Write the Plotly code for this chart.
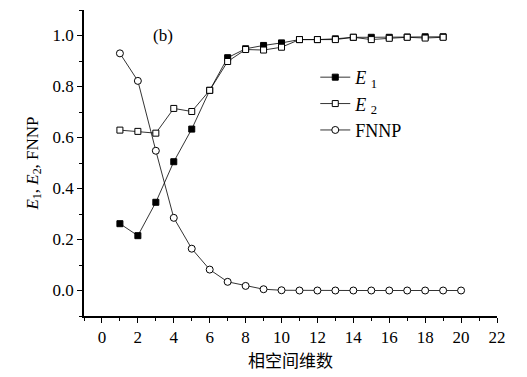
import plotly.graph_objects as go

dims_e = list(range(1, 20))
dims_f = list(range(1, 21))
e1 = [0.262, 0.215, 0.346, 0.505, 0.633, 0.785, 0.913, 0.948, 0.961, 0.971,
      0.984, 0.984, 0.987, 0.993, 0.993, 0.993, 0.994, 0.995, 0.995]
e2 = [0.629, 0.624, 0.617, 0.714, 0.702, 0.785, 0.898, 0.945, 0.943, 0.954,
      0.984, 0.984, 0.984, 0.993, 0.984, 0.989, 0.993, 0.990, 0.993]
fnnp = [0.930, 0.822, 0.548, 0.285, 0.164, 0.082, 0.034, 0.018, 0.005, 0.001,
        0.0, 0.0, 0.0, 0.0, 0.0, 0.0, 0.0, 0.0, 0.0, 0.0]
xticks = list(range(0, 23, 2))
yticks = [0.0, 0.2, 0.4, 0.6, 0.8, 1.0]

serif = "Liberation Serif, DejaVu Serif, serif"
line = dict(color="black", width=0.8)

fig = go.Figure()
fig.add_trace(go.Scatter(x=dims_e, y=e1, mode="lines+markers", name="<i>E</i> <sub>1</sub>",
                         line=line, legendrank=1,
                         marker=dict(symbol="square", size=6, color="black",
                                     line=dict(color="black", width=1))))
fig.add_trace(go.Scatter(x=dims_e, y=e2, mode="lines+markers", name="<i>E</i> <sub>2</sub>",
                         line=line, legendrank=2,
                         marker=dict(symbol="square", size=6, color="white",
                                     line=dict(color="black", width=1))))
fig.add_trace(go.Scatter(x=dims_f, y=fnnp, mode="lines+markers", name="FNNP",
                         line=line, legendrank=3,
                         marker=dict(symbol="circle", size=7, color="white",
                                     line=dict(color="black", width=1))))

fig.add_annotation(x=3.4, y=1.0, text="(b)", showarrow=False, xref="x", yref="y",
                   font=dict(family=serif, size=17, color="black"))

fig.update_layout(
    width=527, height=377,
    margin=dict(l=84, r=30, t=10, b=61),
    paper_bgcolor="white", plot_bgcolor="white",
    font=dict(family=serif, size=17, color="black"),
    showlegend=True,
    legend=dict(x=0.56, y=0.84, xanchor="left", yanchor="top",
                bgcolor="rgba(0,0,0,0)", font=dict(family=serif, size=18),
                itemwidth=30, tracegroupgap=0),
)
fig.update_xaxes(
    range=[-1, 22], tickvals=xticks, ticktext=[str(v) for v in xticks],
    ticks="outside", ticklen=5, tickwidth=1, tickcolor="black",
    minor=dict(dtick=1, ticks="outside", ticklen=3, tickcolor="black", tickwidth=1),
    showline=True, linecolor="black", linewidth=1.5, showgrid=False, zeroline=False,
    tickfont=dict(family=serif, size=17),
    title=dict(text="相空间维数", font=dict(family="Noto Sans CJK SC", size=17), standoff=2),
)
fig.update_yaxes(
    range=[-0.1, 1.1], tickvals=yticks, ticktext=[f"{v:.1f}" for v in yticks],
    ticks="outside", ticklen=5, tickwidth=1, tickcolor="black",
    minor=dict(dtick=0.1, ticks="outside", ticklen=3, tickcolor="black", tickwidth=1),
    showline=True, linecolor="black", linewidth=1.5, showgrid=False, zeroline=False,
    tickfont=dict(family=serif, size=17),
    title=dict(text="<i>E</i><sub>1</sub>, <i>E</i><sub>2</sub>, FNNP",
               font=dict(family=serif, size=17), standoff=10),
)
fig.write_html("out.html")
